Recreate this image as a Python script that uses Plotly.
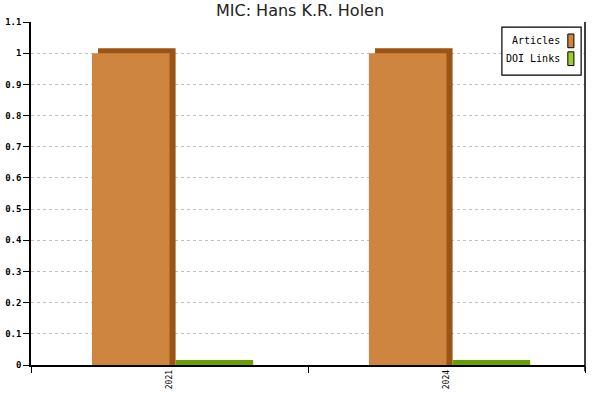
import plotly.graph_objects as go

years = ["2021", "2024"]
articles = [1, 1]
doi_links = [0, 0]

series = [
    ("Articles", articles, "#ce8540", "#9b5414", -0.28),
    ("DOI Links", doi_links, "#9acd32", "#6b9e00", 0.0),
]

BAR_W = 0.28
DEPTH_X = 0.022  # fake 3d depth, category units
DEPTH_Y = 0.016  # fake 3d depth, y units

fig = go.Figure()

# dark "back" bars first, shifted up/right to fake the 3d side + top
for name, vals, front, dark, off in series:
    fig.add_trace(
        go.Bar(
            x=years,
            y=[v + DEPTH_Y for v in vals],
            width=BAR_W,
            offset=off + DEPTH_X,
            marker=dict(color=dark, line=dict(width=0)),
            showlegend=False,
            hoverinfo="skip",
        )
    )

for name, vals, front, dark, off in series:
    fig.add_trace(
        go.Bar(
            x=years,
            y=vals,
            name=name,
            width=BAR_W,
            offset=off,
            marker=dict(color=front, line=dict(width=0)),
            showlegend=False,
        )
    )

mono = "DejaVu Sans Mono"

fig.update_layout(
    width=600,
    height=400,
    barmode="overlay",
    plot_bgcolor="white",
    paper_bgcolor="white",
    margin=dict(l=31, r=15, t=22, b=35, autoexpand=False),
    title=dict(
        text="MIC: Hans K.R. Holen",
        x=0.5,
        xanchor="center",
        yref="container",
        y=0.974,
        yanchor="middle",
        font=dict(family="DejaVu Sans", size=16, color="#222"),
    ),
    xaxis=dict(
        type="category",
        automargin=False,
        tickson="boundaries",
        ticks="outside",
        ticklen=6,
        tickcolor="black",
        tickangle=-90,
        tickfont=dict(family=mono, size=8, color="black"),
        showline=True,
        linecolor="black",
        linewidth=1.5,
        showgrid=False,
        range=[-0.5, 1.5],
    ),
    yaxis=dict(
        automargin=False,
        range=[0, 1.1],
        dtick=0.1,
        tickformat="~g",
        ticks="outside",
        ticklen=6,
        tickcolor="black",
        tickfont=dict(family=mono, size=9, color="black", weight="bold"),
        showline=True,
        linecolor="black",
        linewidth=1.5,
        showgrid=True,
        gridcolor="#c0c0c0",
        griddash="3px,3px",
        zeroline=False,
    ),
)

# right-hand frame line
fig.add_shape(
    type="line", xref="paper", yref="paper",
    x0=1, x1=1, y0=-0.018, y1=1.0,
    line=dict(color="black", width=1.5),
)

# hand-made legend: text on the left, swatch on the right
fig.add_shape(
    type="rect", xref="paper", yref="paper",
    x0=0.850, x1=0.993, y0=0.845, y1=0.985,
    line=dict(color="black", width=1.2), fillcolor="white",
)
legend_rows = [(0.945, "Articles", "#ce8540"), (0.893, "DOI Links", "#9acd32")]
for ly, label, col in legend_rows:
    fig.add_annotation(
        xref="paper", yref="paper", x=0.958, y=ly,
        text=label, showarrow=False, xanchor="right", yanchor="middle",
        font=dict(family=mono, size=10, color="black"),
    )
    fig.add_shape(
        type="rect", xref="paper", yref="paper",
        x0=0.969, x1=0.980, y0=ly - 0.02, y1=ly + 0.02,
        line=dict(color="black", width=1), fillcolor=col,
    )

# drop the browser's default 8px body margin so the figure sits at 0,0
fig.write_html(
    "out.html",
    config={"displayModeBar": False},
    post_script="document.body.style.margin='0';",
)
